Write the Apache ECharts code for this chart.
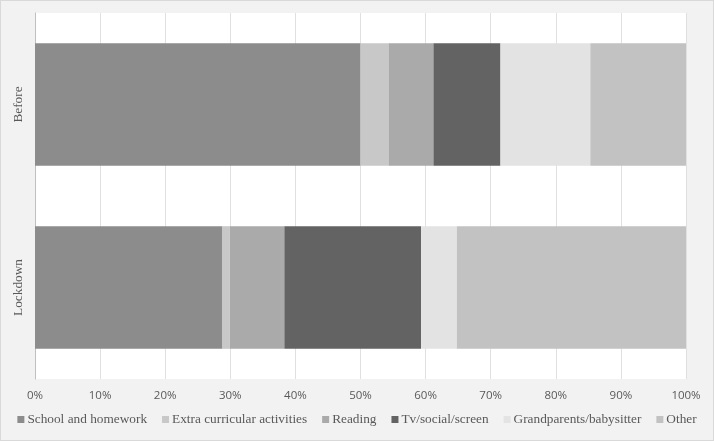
<!DOCTYPE html>
<html>
<head>
<meta charset="utf-8">
<script src="https://cdn.jsdelivr.net/npm/echarts@6/dist/echarts.min.js"></script>
<style>
  html, body { margin: 0; padding: 0; background: #fff; }
  #main { width: 712px; height: 439px; border: 1px solid #d9d9d9; background: #f2f2f2; }
</style>
</head>
<body>
<div id="main"></div>
<script>
// 数据 (百分比)
var categories = ['Lockdown', 'Before'];
var seriesNames = ['School and homework', 'Extra curricular activities', 'Reading', 'Tv/social/screen', 'Grandparents/babysitter', 'Other'];
var school = [28.8, 50.0];
var extra = [1.1, 4.3];
var reading = [8.4, 6.9];
var tv = [21.0, 10.3];
var grandparents = [5.5, 13.8];
var other = [35.2, 14.7];
var xTicks = [0, 10, 20, 30, 40, 50, 60, 70, 80, 90, 100];

var colors = ['#8c8c8c', '#c8c8c8', '#aaaaaa', '#636363', '#e3e3e3', '#c2c2c2'];
var values = [school, extra, reading, tv, grandparents, other];

var myChart = echarts.init(document.getElementById('main'));

var option = {
    animation: false,
    color: colors,
    grid: {
        left: 34, right: 27, top: 12, bottom: 61,
        show: true, backgroundColor: '#ffffff', borderWidth: 0
    },
    legend: {
        bottom: 9, left: 'center',
        itemWidth: 7, itemHeight: 7, itemGap: 15,
        icon: 'rect',
        textStyle: { fontFamily: 'Liberation Serif', fontSize: 13.3, color: '#595959', padding: [0, 0, 0, -2] },
        data: seriesNames
    },
    xAxis: {
        type: 'value',
        min: xTicks[0], max: xTicks[xTicks.length - 1], interval: 10,
        axisLine: { show: false },
        axisTick: { show: false },
        axisLabel: { formatter: '{value}%', color: '#595959', fontFamily: 'Open Sans', fontSize: 11.5, margin: 11 },
        splitLine: { lineStyle: { color: '#e0e0e0', width: 1 } }
    },
    yAxis: {
        type: 'category',
        data: categories,
        axisLine: { show: true, lineStyle: { color: '#bfbfbf' } },
        axisTick: { show: false },
        axisLabel: { rotate: 90, color: '#595959', fontFamily: 'Liberation Serif', fontSize: 13.3, margin: 10 }
    },
    series: seriesNames.map(function (name, i) {
        return {
            name: name,
            type: 'bar',
            stack: 'total',
            barCategoryGap: '33%',
            data: values[i]
        };
    })
};

myChart.setOption(option);
</script>
</body>
</html>
